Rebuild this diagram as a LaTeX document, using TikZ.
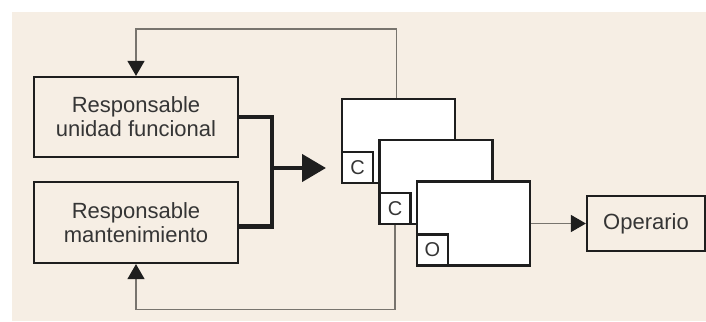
\documentclass[tikz,border=0pt]{standalone}
\usepackage{fontspec}
\setmainfont{Liberation Sans}
\usetikzlibrary{arrows.meta}

\definecolor{paper}{RGB}{246,238,228}
\definecolor{ink}{RGB}{30,30,30}
\definecolor{wire}{RGB}{120,116,110}

\begin{document}
\begin{tikzpicture}[
    x=0.5pt, y=-0.5pt,
    role/.style={rectangle, draw=ink, line width=1.1pt, fill=paper, text=ink!90,
                 font=\fontsize{11}{12}\selectfont, align=center, inner sep=0pt},
    card/.style={rectangle, draw=ink, line width=1.1pt, fill=white,
                 minimum width=56.5pt, minimum height=42pt, inner sep=0pt},
    tag/.style={rectangle, draw=ink, line width=1.1pt, fill=white, text=ink!90,
                minimum size=15.5pt, inner sep=0pt, font=\fontsize{10}{10}\selectfont},
    feed/.style={-{Triangle[length=7.5pt, width=8.5pt, color=ink]}, draw=wire, line width=0.6pt},
    bus/.style={draw=ink, line width=2.2pt}
]

    % --- Canvas ---
    \useasboundingbox (0,0) rectangle (706,321);
    \fill[paper] (12,12) rectangle (706,321);

    % --- Nodes for the two responsible roles ---
    \node[role, minimum width=102pt, minimum height=40pt] (RU) at (136,117)
        {Responsable\\unidad funcional};
    \node[role, minimum width=102pt, minimum height=40.5pt] (RM) at (136,222.5)
        {Responsable\\mantenimiento};

    % --- Stacked cards with their tags ---
    \foreach \i/\t in {1/C,2/C,3/O} {
        \node[card] (K\i) at ({398.5+37.5*(\i-1)}, {141+41.25*(\i-1)}) {};
        \node[tag, anchor=south west] (T\i) at (K\i.south west) {\t};
    }

    % --- Worker ---
    \node[role, minimum width=59pt, minimum height=27.5pt] (OP) at (646,223.5) {Operario};

    % --- Thick bus from both roles into the cards ---
    \coordinate (J) at (272,168);
    \coordinate (H) at (326,168);
    \draw[bus] (RU.east) -| (J) |- ([yshift=-2pt]RM.east);
    \draw[bus, -{Triangle[length=12pt, width=13.5pt]}] (J) -- (H);

    % --- Feedback loops ---
    \draw[feed] ([xshift=-1pt]K1.north) -- ++(0,-69) -| (RU.north);
    \draw[feed] (T2.south) -- ++(0,84) -| (RM.south);

    % --- Output to worker ---
    \draw[feed] (K3.east) -- (OP.west);
\end{tikzpicture}
\end{document}
